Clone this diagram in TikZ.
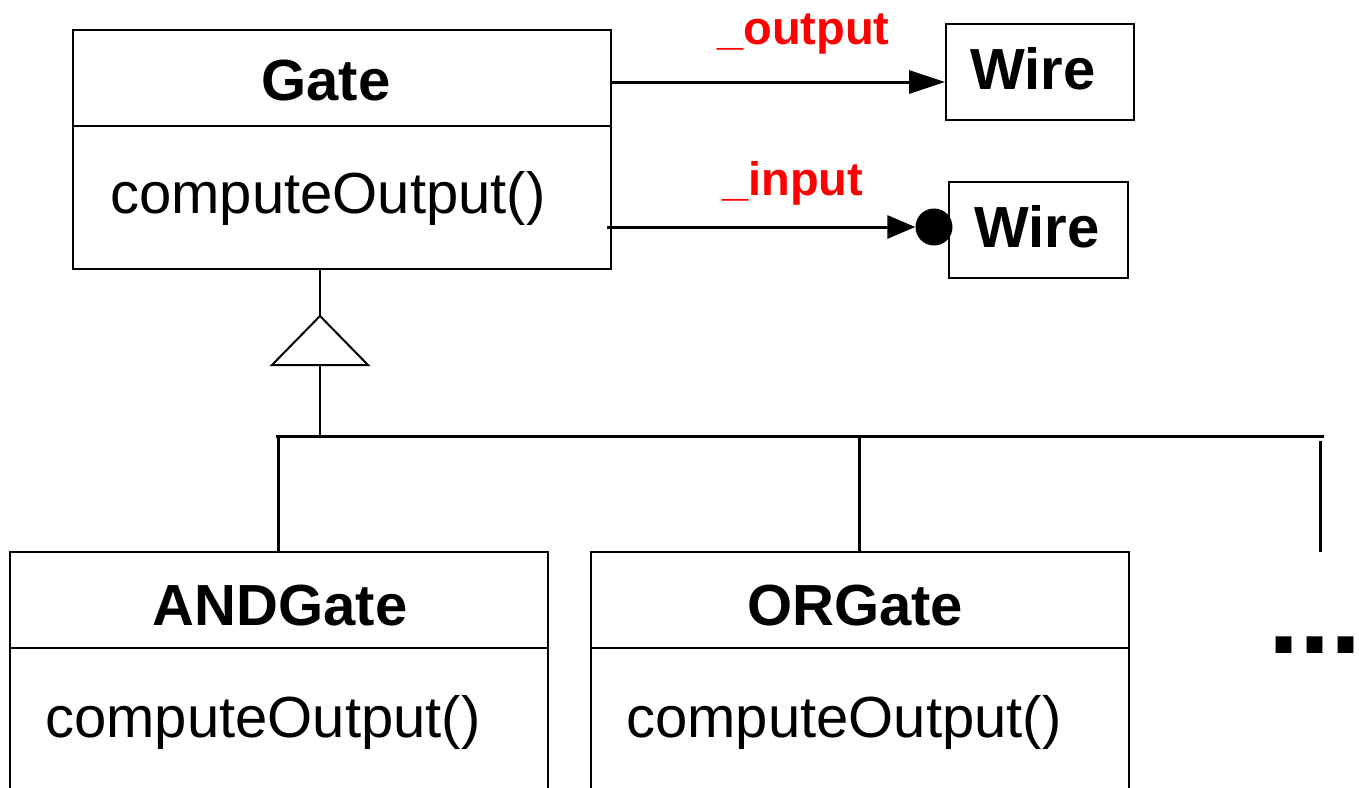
\documentclass[tikz,border=0pt]{standalone}
\usepackage{fontspec}
\setmainfont{Liberation Sans}
\usetikzlibrary{arrows.meta}
\tikzset{
  umlbox/.style={draw=black, line width=1.8pt, rectangle, inner sep=0pt, anchor=north west},
  clsname/.style={font=\fontsize{58}{60}\selectfont\bfseries, inner sep=0pt, anchor=base},
  opname/.style={font=\fontsize{58}{60}\selectfont, inner sep=0pt, anchor=base west},
  rolename/.style={font=\fontsize{47}{50}\selectfont\bfseries, text=red, inner sep=0pt, anchor=base west},
  assoc/.style={line width=3pt},
  genline/.style={line width=2pt},
  busline/.style={line width=3pt},
}
\begin{document}
\begin{tikzpicture}[x=1pt,y=-1pt]
\useasboundingbox (0,0) rectangle (1359,787);
\clip (0,0) rectangle (1359,787);

% --- Gate class ---
\node[umlbox, minimum width=538pt, minimum height=96pt]  (gateHead) at (72,29) {};
\node[umlbox, minimum width=538pt, minimum height=143pt] (gateBody) at (72,125) {};
\node[clsname] (gateName) at (326,100) {Gate};
\node[opname]  (gateOp)   at (110,213) {computeOutput()};

% --- Wire classes ---
\node[umlbox, minimum width=188pt, minimum height=96pt] (wireOut) at (945,23) {};
\node[clsname, anchor=base west] (wireOutName) at (970,89) {Wire};
\node[umlbox, minimum width=179pt, minimum height=96pt] (wireIn) at (948,181) {};
\node[clsname, anchor=base west] (wireInName) at (974,247) {Wire};

% --- associations ---
\coordinate (outStart) at (610,82);
\draw[assoc, -{Triangle[length=36pt,width=23pt]}] (outStart) -- (outStart -| wireOut.west);
\node[rolename] (outRole) at (717,44) {\_output};

\coordinate (inStart) at (607,227);
\node[circle, fill=black, inner sep=0pt, minimum size=37pt] (inDot) at (934,227) {};
\draw[assoc, -{Triangle[length=28pt,width=23pt]}] (inStart) -- (inDot.west);
\node[rolename] (inRole) at (722,195) {\_input};

% --- generalization ---
\coordinate (apex)  at (320,316);
\coordinate (baseL) at (272,365);
\coordinate (baseR) at (368,365);
\coordinate (baseM) at (320,365);
\coordinate (busL)  at (276,436);
\coordinate (busR)  at (1324,436);
\draw[genline] (gateBody.south -| apex) -- (apex);
\draw[genline] (apex) -- (baseL) -- (baseR) -- cycle;
\draw[genline] (baseM) -- (baseM |- busL);
\draw[busline] (busL) -- (busR);

% --- subclasses ---
\node[umlbox, minimum width=538pt, minimum height=96pt]  (andHead) at (9,551) {};
\node[umlbox, minimum width=538pt, minimum height=220pt] (andBody) at (9,647) {};
\node[clsname] (andName) at (280,625) {ANDGate};
\node[opname]  (andOp)   at (45,737) {computeOutput()};

\node[umlbox, minimum width=538pt, minimum height=96pt]  (orHead) at (590,551) {};
\node[umlbox, minimum width=538pt, minimum height=220pt] (orBody) at (590,647) {};
\node[clsname] (orName) at (855,625) {ORGate};
\node[opname]  (orOp)   at (626,737) {computeOutput()};

\draw[busline] (andHead.north |- busL) -- (andHead.north);
\draw[busline] (orHead.north |- busL) -- (orHead.north);

\coordinate (moreTop) at (1320,441);
\coordinate (moreEnd) at (1320,552);
\draw[busline] (moreTop) -- (moreEnd);
\node[font=\fontsize{112}{112}\selectfont\bfseries, inner sep=0pt, anchor=base west] (more) at (1268,653) {...};
\end{tikzpicture}
\end{document}
